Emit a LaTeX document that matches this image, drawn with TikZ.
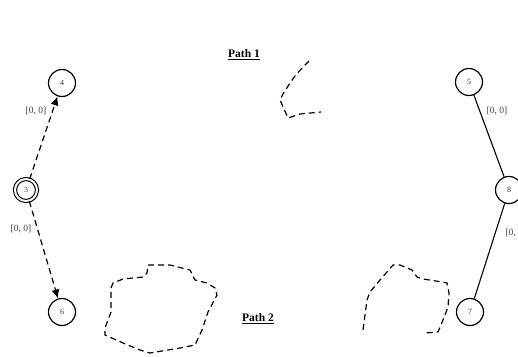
\documentclass[tikz,border=0pt]{standalone}
\usepackage{fontspec}
\setmainfont{Liberation Serif}
\usetikzlibrary{arrows.meta}
\begin{document}
\begin{tikzpicture}[x=1pt,y=-1pt,
  st/.style={circle,draw,line width=1.2pt,minimum size=27pt,inner sep=0pt,font=\fontsize{8}{9}\selectfont,text=black!80},
  acc/.style={circle,draw,line width=1.1pt,double,double distance=2pt,minimum size=22pt,inner sep=0pt,font=\fontsize{8}{9}\selectfont,text=black!80},
  dedge/.style={line width=1.2pt,dash pattern=on 6pt off 4pt,-{Latex[length=9pt,width=8pt]}},
  sedge/.style={line width=1.1pt},
  lbl/.style={font=\fontsize{9.5}{11}\selectfont,text=black!75},
  ptitle/.style={font=\fontsize{11.5}{13}\selectfont\bfseries},
  blob/.style={line width=1.2pt,dash pattern=on 6pt off 4pt}]
\useasboundingbox (0,0) rectangle (518,356);
\node[st] (n4) at (62,83) {4};
\node[acc] (n3) at (26,190) {3};
\node[st] (n6) at (62,312) {6};
\node[st] (n5) at (469,82) {5};
\node[st] (n8) at (509,190) {8};
\node[st] (n7) at (470,312) {7};
\draw[dedge] (n3) -- (n4);
\draw[dedge] (n3) -- (n6);
\draw[sedge] (n5) -- (n8);
\draw[sedge] (n8) -- (n7);
\node[lbl] (l1) at (36,111) {[0, 0]};
\node[lbl] (l2) at (21,229) {[0, 0]};
\node[lbl] (l3) at (497,111) {[0, 0]};
\node[lbl,anchor=west] (l4) at (502,233) {[0, 0]};
\node[ptitle] (p1) at (244,55) {\underline{Path 1}};
\node[ptitle] (p2) at (258,319) {\underline{Path 2}};
% fragments
\draw[blob] plot[smooth,tension=0.5] coordinates {(309,61) (295,76) (283,94)} -- (280,100) -- (288,118) -- (300,114) -- (321,112);
\draw[blob] (148,265) -- (170,265) -- (190,270) -- (195,280) -- (207,283) -- (215,288) -- (217,295) -- (208,312) -- (202,330) -- (195,345) -- (180,348) -- (150,353) -- (140,350) -- (123,343) -- (105,335) -- (105,328) -- (108,320) -- (111,312) -- (111,288) -- (113,283) -- (123,279) -- (133,278) -- (143,277) -- (147,273) -- cycle;
\draw[blob] (363,330) -- (367,300) -- (370,292) -- (380,280) -- (393,265) -- (400,265) -- (412,270) -- (417,277) -- (423,279) -- (442,282) -- (447,283) -- (449,293) -- (448,307) -- (443,320) -- (438,332) -- (425,333);
\end{tikzpicture}
\end{document}
